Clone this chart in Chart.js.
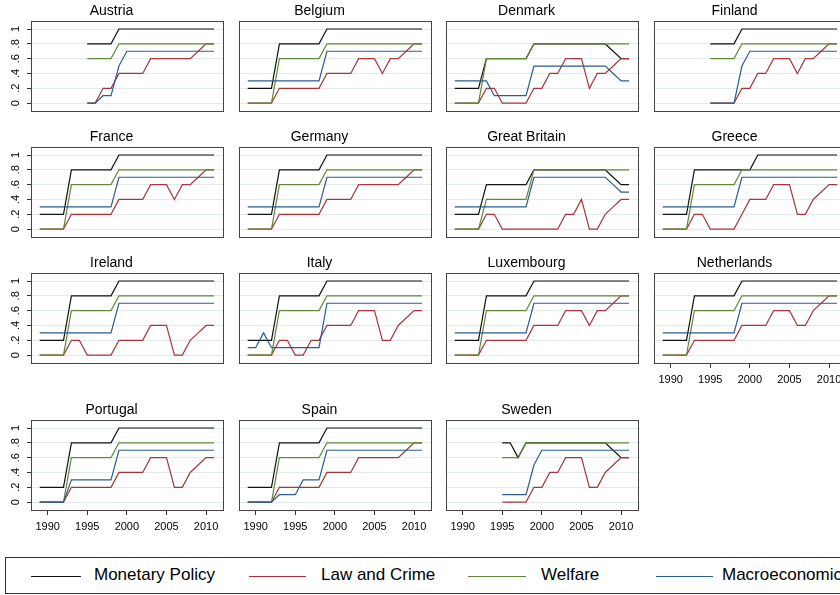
<!DOCTYPE html>
<html>
<head>
<meta charset="utf-8">
<script src="https://cdn.jsdelivr.net/npm/chart.js"></script>
<style>
body { margin:0; width:840px; height:595px; overflow:hidden; background:#fff; position:relative; font-family:"Liberation Sans", Arial, sans-serif; }
canvas { position:absolute; }
#legend { position:absolute; left:5px; top:557px; width:870px; height:37px; border:1px solid #333; box-sizing:border-box; }
.key { position:absolute; top:18px; height:1px; }
.lab { position:absolute; top:7px; font-size:17px; line-height:20px; color:#000; white-space:nowrap; }
</style>
</head>
<body>
<div id="legend">
  <div class="key" style="left:25px;width:50px;background:#111"></div><span class="lab" style="left:88px">Monetary Policy</span>
  <div class="key" style="left:243px;width:57px;background:#a8343a"></div><span class="lab" style="left:315px">Law and Crime</span>
  <div class="key" style="left:462px;width:58px;background:#5e8a36"></div><span class="lab" style="left:535px">Welfare</span>
  <div class="key" style="left:650px;width:57px;background:#2b5c90"></div><span class="lab" style="left:716px">Macroeconomics</span>
</div>
<script>
var _ = null;
var years = [1989,1990,1991,1992,1993,1994,1995,1996,1997,1998,1999,2000,2001,2002,2003,2004,2005,2006,2007,2008,2009,2010,2011];
var countries = ["Austria","Belgium","Denmark","Finland","France","Germany","Great Britain","Greece","Ireland","Italy","Luxembourg","Netherlands","Portugal","Spain","Sweden"];
var xTicks = [1990,1995,2000,2005,2010];
var yTicks = [0,0.2,0.4,0.6,0.8,1];
var yTickLabels = ["0",".2",".4",".6",".8","1"];

// one row per country, 1989-2011
var monetaryPolicy = [
  [_,_,_,_,_,_,.8,.8,.8,.8,1,1,1,1,1,1,1,1,1,1,1,1,1],
  [.2,.2,.2,.2,.8,.8,.8,.8,.8,.8,1,1,1,1,1,1,1,1,1,1,1,1,1],
  [.2,.2,.2,.2,.6,.6,.6,.6,.6,.6,.8,.8,.8,.8,.8,.8,.8,.8,.8,.8,.7,.6,.6],
  [_,_,_,_,_,_,.8,.8,.8,.8,1,1,1,1,1,1,1,1,1,1,1,1,1],
  [.2,.2,.2,.2,.8,.8,.8,.8,.8,.8,1,1,1,1,1,1,1,1,1,1,1,1,1],
  [.2,.2,.2,.2,.8,.8,.8,.8,.8,.8,1,1,1,1,1,1,1,1,1,1,1,1,1],
  [.2,.2,.2,.2,.6,.6,.6,.6,.6,.6,.8,.8,.8,.8,.8,.8,.8,.8,.8,.8,.7,.6,.6],
  [.2,.2,.2,.2,.8,.8,.8,.8,.8,.8,.8,.8,1,1,1,1,1,1,1,1,1,1,1],
  [.2,.2,.2,.2,.8,.8,.8,.8,.8,.8,1,1,1,1,1,1,1,1,1,1,1,1,1],
  [.2,.2,.2,.2,.8,.8,.8,.8,.8,.8,1,1,1,1,1,1,1,1,1,1,1,1,1],
  [.2,.2,.2,.2,.8,.8,.8,.8,.8,.8,1,1,1,1,1,1,1,1,1,1,1,1,1],
  [.2,.2,.2,.2,.8,.8,.8,.8,.8,.8,1,1,1,1,1,1,1,1,1,1,1,1,1],
  [.2,.2,.2,.2,.8,.8,.8,.8,.8,.8,1,1,1,1,1,1,1,1,1,1,1,1,1],
  [.2,.2,.2,.2,.8,.8,.8,.8,.8,.8,1,1,1,1,1,1,1,1,1,1,1,1,1],
  [_,_,_,_,_,_,.8,.8,.6,.8,.8,.8,.8,.8,.8,.8,.8,.8,.8,.8,.7,.6,.6]
];
var lawAndCrime = [
  [_,_,_,_,_,_,0,0,.2,.2,.4,.4,.4,.4,.6,.6,.6,.6,.6,.6,.7,.8,.8],
  [0,0,0,0,.2,.2,.2,.2,.2,.2,.4,.4,.4,.4,.6,.6,.6,.4,.6,.6,.7,.8,.8],
  [0,0,0,0,.2,.2,0,0,0,0,.2,.2,.4,.4,.6,.6,.6,.2,.4,.4,.5,.6,.6],
  [_,_,_,_,_,_,0,0,0,0,.2,.2,.4,.4,.6,.6,.6,.4,.6,.6,.7,.8,.8],
  [0,0,0,0,.2,.2,.2,.2,.2,.2,.4,.4,.4,.4,.6,.6,.6,.4,.6,.6,.7,.8,.8],
  [0,0,0,0,.2,.2,.2,.2,.2,.2,.4,.4,.4,.4,.6,.6,.6,.6,.6,.6,.7,.8,.8],
  [0,0,0,0,.2,.2,0,0,0,0,0,0,0,0,.2,.2,.4,0,0,.2,.3,.4,.4],
  [0,0,0,0,.2,.2,0,0,0,0,.2,.4,.4,.4,.6,.6,.6,.2,.2,.4,.5,.6,.6],
  [0,0,0,0,.2,.2,0,0,0,0,.2,.2,.2,.2,.4,.4,.4,0,0,.2,.3,.4,.4],
  [0,0,0,0,.2,.2,0,0,.2,.2,.4,.4,.4,.4,.6,.6,.6,.2,.2,.4,.5,.6,.6],
  [0,0,0,0,.2,.2,.2,.2,.2,.2,.4,.4,.4,.4,.6,.6,.6,.4,.6,.6,.7,.8,.8],
  [0,0,0,0,.2,.2,.2,.2,.2,.2,.4,.4,.4,.4,.6,.6,.6,.4,.4,.6,.7,.8,.8],
  [0,0,0,0,.2,.2,.2,.2,.2,.2,.4,.4,.4,.4,.6,.6,.6,.2,.2,.4,.5,.6,.6],
  [0,0,0,0,.2,.2,.2,.2,.2,.2,.4,.4,.4,.4,.6,.6,.6,.6,.6,.6,.7,.8,.8],
  [_,_,_,_,_,_,0,0,0,0,.2,.2,.4,.4,.6,.6,.6,.2,.2,.4,.5,.6,.6]
];
var welfare = [
  [_,_,_,_,_,_,.6,.6,.6,.6,.8,.8,.8,.8,.8,.8,.8,.8,.8,.8,.8,.8,.8],
  [0,0,0,0,.6,.6,.6,.6,.6,.6,.8,.8,.8,.8,.8,.8,.8,.8,.8,.8,.8,.8,.8],
  [0,0,0,0,.6,.6,.6,.6,.6,.6,.8,.8,.8,.8,.8,.8,.8,.8,.8,.8,.8,.8,.8],
  [_,_,_,_,_,_,.6,.6,.6,.6,.8,.8,.8,.8,.8,.8,.8,.8,.8,.8,.8,.8,.8],
  [0,0,0,0,.6,.6,.6,.6,.6,.6,.8,.8,.8,.8,.8,.8,.8,.8,.8,.8,.8,.8,.8],
  [0,0,0,0,.6,.6,.6,.6,.6,.6,.8,.8,.8,.8,.8,.8,.8,.8,.8,.8,.8,.8,.8],
  [0,0,0,0,.4,.4,.4,.4,.4,.4,.8,.8,.8,.8,.8,.8,.8,.8,.8,.8,.8,.8,.8],
  [0,0,0,0,.6,.6,.6,.6,.6,.6,.8,.8,.8,.8,.8,.8,.8,.8,.8,.8,.8,.8,.8],
  [0,0,0,0,.6,.6,.6,.6,.6,.6,.8,.8,.8,.8,.8,.8,.8,.8,.8,.8,.8,.8,.8],
  [0,0,0,0,.6,.6,.6,.6,.6,.6,.8,.8,.8,.8,.8,.8,.8,.8,.8,.8,.8,.8,.8],
  [0,0,0,0,.6,.6,.6,.6,.6,.6,.8,.8,.8,.8,.8,.8,.8,.8,.8,.8,.8,.8,.8],
  [0,0,0,0,.6,.6,.6,.6,.6,.6,.8,.8,.8,.8,.8,.8,.8,.8,.8,.8,.8,.8,.8],
  [0,0,0,0,.6,.6,.6,.6,.6,.6,.8,.8,.8,.8,.8,.8,.8,.8,.8,.8,.8,.8,.8],
  [0,0,0,0,.6,.6,.6,.6,.6,.6,.8,.8,.8,.8,.8,.8,.8,.8,.8,.8,.8,.8,.8],
  [_,_,_,_,_,_,.6,.6,.6,.8,.8,.8,.8,.8,.8,.8,.8,.8,.8,.8,.8,.8,.8]
];
var macroeconomics = [
  [_,_,_,_,_,_,0,0,.1,.1,.5,.7,.7,.7,.7,.7,.7,.7,.7,.7,.7,.7,.7],
  [.3,.3,.3,.3,.3,.3,.3,.3,.3,.3,.7,.7,.7,.7,.7,.7,.7,.7,.7,.7,.7,.7,.7],
  [.3,.3,.3,.3,.3,.1,.1,.1,.1,.1,.5,.5,.5,.5,.5,.5,.5,.5,.5,.5,.4,.3,.3],
  [_,_,_,_,_,_,0,0,0,0,.5,.7,.7,.7,.7,.7,.7,.7,.7,.7,.7,.7,.7],
  [.3,.3,.3,.3,.3,.3,.3,.3,.3,.3,.7,.7,.7,.7,.7,.7,.7,.7,.7,.7,.7,.7,.7],
  [.3,.3,.3,.3,.3,.3,.3,.3,.3,.3,.7,.7,.7,.7,.7,.7,.7,.7,.7,.7,.7,.7,.7],
  [.3,.3,.3,.3,.3,.3,.3,.3,.3,.3,.7,.7,.7,.7,.7,.7,.7,.7,.7,.7,.6,.5,.5],
  [.3,.3,.3,.3,.3,.3,.3,.3,.3,.3,.7,.7,.7,.7,.7,.7,.7,.7,.7,.7,.7,.7,.7],
  [.3,.3,.3,.3,.3,.3,.3,.3,.3,.3,.7,.7,.7,.7,.7,.7,.7,.7,.7,.7,.7,.7,.7],
  [.1,.1,.3,.1,.1,.1,.1,.1,.1,.1,.7,.7,.7,.7,.7,.7,.7,.7,.7,.7,.7,.7,.7],
  [.3,.3,.3,.3,.3,.3,.3,.3,.3,.3,.7,.7,.7,.7,.7,.7,.7,.7,.7,.7,.7,.7,.7],
  [.3,.3,.3,.3,.3,.3,.3,.3,.3,.3,.7,.7,.7,.7,.7,.7,.7,.7,.7,.7,.7,.7,.7],
  [0,0,0,0,.3,.3,.3,.3,.3,.3,.7,.7,.7,.7,.7,.7,.7,.7,.7,.7,.7,.7,.7],
  [0,0,0,0,.1,.1,.1,.3,.3,.3,.7,.7,.7,.7,.7,.7,.7,.7,.7,.7,.7,.7,.7],
  [_,_,_,_,_,_,.1,.1,.1,.1,.5,.7,.7,.7,.7,.7,.7,.7,.7,.7,.7,.7,.7]
];

var colLeft = [31, 239, 446, 654];
var rowTop = [21, 147, 273, 420];
var frameW = 193, frameH = 91;
var axisW = 32, titleH = 22, axisH = 24, padRight = 4;

Chart.defaults.font.family = "'Liberation Sans', Arial, sans-serif";

function toPoints(values) {
  return years.map(function (yr, i) { return { x: yr, y: values[i] }; });
}

var framePlugin = {
  id: 'frame',
  afterDraw: function (chart) {
    var a = chart.chartArea, ctx = chart.ctx;
    ctx.save();
    ctx.strokeStyle = '#444';
    ctx.lineWidth = 1;
    ctx.strokeRect(Math.round(a.left) + 0.5, Math.round(a.top) + 0.5, Math.round(a.right - a.left) - 1, Math.round(a.bottom - a.top) - 1);
    ctx.restore();
  }
};

var yLabelPlugin = {
  id: 'yLabels',
  afterDraw: function (chart, args, opts) {
    if (!opts.show) return;
    var ctx = chart.ctx, sc = chart.scales.y, a = chart.chartArea;
    ctx.save();
    ctx.fillStyle = '#000';
    ctx.font = "11px 'Liberation Sans', Arial, sans-serif";
    ctx.textAlign = 'center';
    ctx.textBaseline = 'middle';
    for (var i = 0; i < yTicks.length; i++) {
      var py = sc.getPixelForValue(yTicks[i]);
      ctx.save();
      ctx.translate(a.left - 15, py);
      ctx.rotate(-Math.PI / 2);
      ctx.fillText(yTickLabels[i], 0, 0);
      ctx.restore();
    }
    ctx.restore();
  }
};

function makePanel(idx) {
  var row = Math.floor(idx / 4), col = idx % 4;
  var showX = idx >= 11;
  var showY = col === 0;
  var canvas = document.createElement('canvas');
  canvas.width = axisW + frameW + padRight;
  canvas.height = titleH + frameH + axisH;
  canvas.style.left = (colLeft[col] - axisW) + 'px';
  canvas.style.top = (rowTop[row] - titleH) + 'px';
  document.body.appendChild(canvas);

  var series = [
    { label: 'Monetary Policy', data: toPoints(monetaryPolicy[idx]), borderColor: '#111', order: 4 },
    { label: 'Law and Crime', data: toPoints(lawAndCrime[idx]), borderColor: '#a8343a', order: 3 },
    { label: 'Welfare', data: toPoints(welfare[idx]), borderColor: '#5e8a36', order: 2 },
    { label: 'Macroeconomics', data: toPoints(macroeconomics[idx]), borderColor: '#2b5c90', order: 1 }
  ];
  series.forEach(function (s) {
    s.borderWidth = 1.2;
    s.pointRadius = 0;
    s.tension = 0;
    s.fill = false;
    s.spanGaps = false;
  });

  new Chart(canvas.getContext('2d'), {
    type: 'line',
    data: { datasets: series },
    plugins: [framePlugin, yLabelPlugin],
    options: {
      responsive: false,
      animation: false,
      events: [],
      layout: { padding: { left: 0, right: padRight, top: 0, bottom: 0 } },
      plugins: {
        legend: { display: false },
        tooltip: { enabled: false },
        yLabels: { show: showY },
        title: {
          display: true,
          text: countries[idx],
          color: '#000',
          font: { size: 14, weight: 'normal' },
          padding: { top: 4, bottom: 1.2 }
        }
      },
      scales: {
        x: {
          type: 'linear',
          min: 1987.9,
          max: 2012.26,
          afterBuildTicks: function (s) { s.ticks = xTicks.map(function (v) { return { value: v }; }); },
          afterFit: function (s) { s.height = axisH; },
          ticks: {
            display: showX,
            autoSkip: false,
            maxRotation: 0,
            minRotation: 0,
            padding: 5,
            color: '#000',
            font: { size: 11 },
            callback: function (v) { return String(v); }
          },
          grid: { display: showX, drawOnChartArea: false, tickLength: 4, tickColor: '#333' },
          border: { display: false }
        },
        y: {
          min: -0.12,
          max: 1.108,
          afterBuildTicks: function (s) { s.ticks = yTicks.map(function (v) { return { value: v }; }); },
          afterFit: function (s) { s.width = axisW; },
          ticks: { display: false },
          grid: { color: '#e3eaee', drawTicks: showY, tickLength: 4, tickColor: '#333' },
          border: { display: false }
        }
      }
    }
  });
}

for (var i = 0; i < countries.length; i++) {
  makePanel(i);
}
</script>
</body>
</html>
